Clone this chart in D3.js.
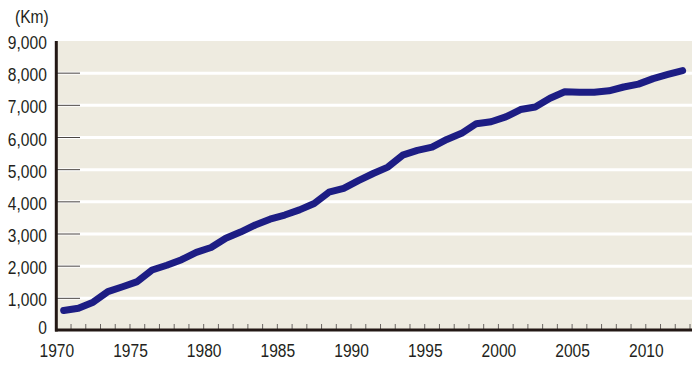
<!DOCTYPE html>
<html>
<head>
<meta charset="utf-8">
<script src="https://cdn.jsdelivr.net/npm/d3@7"></script>
<style>
  body { margin: 0; background: #fff; }
  text { font-family: "Liberation Sans", Arial, sans-serif; fill: #231f20; }
</style>
</head>
<body>
<div id="chart"></div>
<script>
const width = 700;
const height = 368;

// fiscal years, plotted at the middle of each year slot
const years = d3.range(1970, 2013);
const km = [620, 690, 880, 1210, 1360, 1520, 1880, 2030, 2200, 2430,
            2580, 2870, 3060, 3280, 3460, 3590, 3750, 3950, 4300, 4420,
            4660, 4880, 5080, 5450, 5600, 5700, 5940, 6130, 6430, 6490,
            6640, 6870, 6950, 7220, 7420, 7410, 7410, 7450, 7570, 7660,
            7830, 7960, 8080];
const yTicks = [0, 1000, 2000, 3000, 4000, 5000, 6000, 7000, 8000, 9000];
const xLabels = [1970, 1975, 1980, 1985, 1990, 1995, 2000, 2005, 2010];

const squeeze = 0.82;

const svg = d3.select("#chart")
    .append("svg")
    .attr("width", width)
    .attr("height", height);

const x = d3.scaleLinear().domain([1970, 2013]).range([56.3, 690]);
const y = d3.scaleLinear().domain([0, 9000]).range([330.5, 41]);

// plot background
svg.append("rect")
    .attr("x", 57)
    .attr("y", y(9000))
    .attr("width", 692 - 57)
    .attr("height", y(0) - y(9000))
    .attr("fill", "#eeebe0");

// white grid lines
svg.selectAll(".grid")
    .data(yTicks.filter(d => d > 0 && d < 9000))
    .join("line")
    .attr("class", "grid")
    .attr("x1", 57)
    .attr("x2", 692)
    .attr("y1", d => y(d))
    .attr("y2", d => y(d))
    .attr("stroke", "#fff")
    .attr("stroke-width", 3);

// short dark marks at the left of each grid line
svg.selectAll(".ymark")
    .data(yTicks.filter(d => d > 0 && d < 9000))
    .join("line")
    .attr("class", "ymark")
    .attr("x1", 57)
    .attr("x2", 80)
    .attr("y1", d => y(d))
    .attr("y2", d => y(d))
    .attr("stroke", "#4a4543")
    .attr("stroke-width", 1);

// year ticks
svg.selectAll(".xtick")
    .data(d3.range(1971, 2014))
    .join("line")
    .attr("class", "xtick")
    .attr("x1", d => x(d))
    .attr("x2", d => x(d))
    .attr("y1", 324)
    .attr("y2", 330)
    .attr("stroke", "#6b6663")
    .attr("stroke-width", 1);

// axis lines
svg.append("line")
    .attr("x1", 56.3).attr("x2", 56.3)
    .attr("y1", y(9000)).attr("y2", 331.5)
    .attr("stroke", "#231815")
    .attr("stroke-width", 3);

svg.append("line")
    .attr("x1", 55).attr("x2", 692)
    .attr("y1", 330).attr("y2", 330)
    .attr("stroke", "#231815")
    .attr("stroke-width", 3);

// y labels
const yAxis = svg.append("g")
    .attr("transform", "translate(56.3,0)")
    .call(d3.axisLeft(y).tickValues(yTicks).tickSize(0).tickFormat(d3.format(",")));
yAxis.select(".domain").remove();
yAxis.selectAll("text")
    .attr("x", -9.5 / squeeze)
    .attr("dy", d => d === 0 ? "3px" : "7.5px")
    .attr("transform", `scale(${squeeze},1)`)
    .style("font-size", "19px")
    .style("font-family", "'Liberation Sans', Arial, sans-serif")
    .attr("fill", "#231f20");

// x labels
const xAxis = svg.append("g")
    .attr("transform", "translate(0,330)")
    .call(d3.axisBottom(x).tickValues(xLabels).tickSize(0).tickFormat(d3.format("d")));
xAxis.select(".domain").remove();
xAxis.selectAll("text")
    .attr("y", 27.3)
    .attr("dy", 0)
    .attr("transform", `scale(${squeeze},1)`)
    .style("font-size", "19px")
    .style("font-family", "'Liberation Sans', Arial, sans-serif")
    .attr("fill", "#231f20");

// unit
svg.append("text")
    .attr("x", 15 / squeeze)
    .attr("y", 23.3)
    .attr("transform", `scale(${squeeze},1)`)
    .style("font-size", "19px")
    .text("(Km)");

// the line
const line = d3.line()
    .x((d, i) => x(years[i] + 0.5))
    .y(d => y(d));

svg.append("path")
    .datum(km)
    .attr("d", line)
    .attr("fill", "none")
    .attr("stroke", "#1d1d84")
    .attr("stroke-width", 7)
    .attr("stroke-linejoin", "round")
    .attr("stroke-linecap", "round");
</script>
</body>
</html>
